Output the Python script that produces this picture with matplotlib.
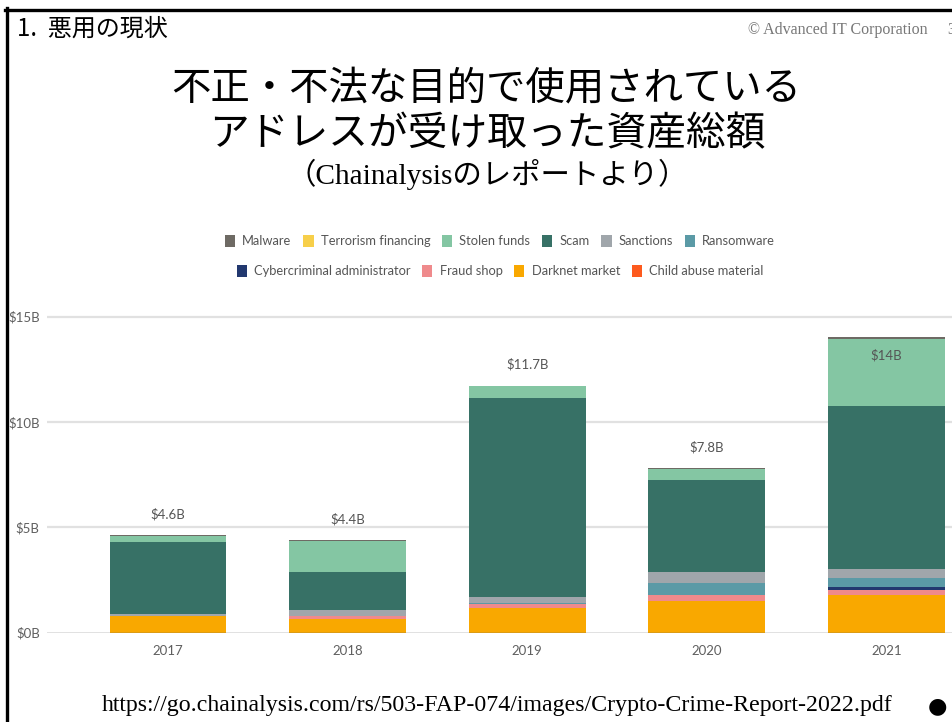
import matplotlib
matplotlib.use("Agg")
import matplotlib.pyplot as plt
from matplotlib.patches import Patch
from matplotlib.lines import Line2D
import numpy as np

# ---------------- data ----------------
years = ["2017", "2018", "2019", "2020", "2021"]
# stacked from bottom to top
child_abuse = [0.0, 0.0, 0.0, 0.0, 0.0]
darknet_market = [0.77, 0.63, 1.16, 1.52, 1.79]
fraud_shop = [0.03, 0.16, 0.19, 0.27, 0.24]
cyber_admin = [0.0, 0.0, 0.0, 0.0, 0.12]
ransomware = [0.0, 0.0, 0.07, 0.58, 0.46]
sanctions = [0.09, 0.29, 0.26, 0.53, 0.40]
scam = [3.40, 1.82, 9.44, 4.33, 7.75]
stolen_funds = [0.30, 1.47, 0.58, 0.54, 3.20]
terrorism_financing = [0.003, 0.003, 0.003, 0.003, 0.005]
malware = [0.03, 0.03, 0.03, 0.03, 0.07]
total_labels = ["$4.6B", "$4.4B", "$11.7B", "$7.8B", "$14B"]
ytick_values = [0, 5, 10, 15]
ytick_labels = ["$0B", "$5B", "$10B", "$15B"]

stack = [
    ("Child abuse material", child_abuse, "#fd5a1e"),
    ("Darknet market", darknet_market, "#f9a800"),
    ("Fraud shop", fraud_shop, "#ef8a8c"),
    ("Cybercriminal administrator", cyber_admin, "#22386f"),
    ("Ransomware", ransomware, "#5b9aa6"),
    ("Sanctions", sanctions, "#a0a6ab"),
    ("Scam", scam, "#377166"),
    ("Stolen funds", stolen_funds, "#84c6a3"),
    ("Terrorism financing", terrorism_financing, "#f7cf4a"),
    ("Malware", malware, "#6e6a64"),
]
colors = {name: c for name, _, c in stack}
legend_row1 = ["Malware", "Terrorism financing", "Stolen funds", "Scam", "Sanctions", "Ransomware"]
legend_row2 = ["Cybercriminal administrator", "Fraud shop", "Darknet market", "Child abuse material"]

W, H = 953, 722
fig = plt.figure(figsize=(W / 100, H / 100), dpi=100)
fig.patch.set_facecolor("white")

CF = "Lato"
tick_color = "#5f5f5f"

# axes geometry (pixels)
x_left_px, x_right_px = 46.7, 1007.6
y0_px, y15_px = 632.7, 316.7
ymax = 15.1
px_per_unit = (y0_px - y15_px) / 15
top_px = y0_px - ymax * px_per_unit
ax = fig.add_axes([x_left_px / W, (H - y0_px) / H, (x_right_px - x_left_px) / W, (y0_px - top_px) / H])
ax.set_xlim(-0.675, 4.675)
ax.set_ylim(0, ymax)
x = np.arange(len(years))
bottom = np.zeros(len(years))
for name, vals, c in stack:
    v = np.array(vals)
    ax.bar(x, v, width=0.65, bottom=bottom, color=c, linewidth=0, zorder=3)
    bottom += v
totals = bottom

for s in ax.spines.values():
    s.set_visible(False)
ax.set_yticks(ytick_values)
ax.set_yticklabels(ytick_labels, fontfamily=CF, fontsize=9.5, color=tick_color)
ax.set_xticks(x)
ax.set_xticklabels(years, fontfamily=CF, fontsize=9.5, color=tick_color)
ax.tick_params(axis="both", length=0)
ax.tick_params(axis="y", pad=5)
ax.tick_params(axis="x", pad=9)
for yv in ytick_values[1:]:
    ax.axhline(yv, color="#e1e1e1", lw=1.6, zorder=1)
ax.axhline(0, color="#6a6a6a", lw=1.0, zorder=4)

for xi, t, lab in zip(x, totals, total_labels):
    inside = (t + 1.2) > ymax
    off = -18 if inside else 21
    ax.annotate(lab, (xi, t), xytext=(0, off * 0.72), textcoords="offset points",
                ha="center", va="center", fontfamily=CF, fontsize=9.5, color="#555555", zorder=5)

# legends (two centred rows)
def make_leg(names, y):
    handles = [Patch(facecolor=colors[n], edgecolor="none") for n in names]
    leg = fig.legend(handles, names, loc="center", bbox_to_anchor=(500 / W, 1 - y / H),
                     ncol=len(names), frameon=False, prop={"family": CF, "size": 9.3},
                     handlelength=0.8, handleheight=1.15, handletextpad=0.55,
                     columnspacing=0.9, borderpad=0)
    for t in leg.get_texts():
        t.set_color("#555555")
    return leg

make_leg(legend_row1, 241)
make_leg(legend_row2, 271)

# slide frame
fig.add_artist(Line2D([6.5 / W, 6.5 / W], [0, 1 - 8 / H], color="black", lw=2.4))
fig.add_artist(Line2D([5.3 / W, 1], [1 - 9.5 / H, 1 - 9.5 / H], color="black", lw=2.4))

JP = ["Noto Sans CJK JP", "DejaVu Sans"]
SERIF_JP = ["Liberation Serif", "Noto Sans CJK JP"]
fig.text(17 / W, 1 - 29 / H, "1.  悪用の現状", fontfamily=JP, fontsize=17.3, ha="left", va="center")
fig.text(748 / W, 1 - 30 / H, "© Advanced IT Corporation", fontfamily="Liberation Serif",
         fontsize=11.5, color="#777777", ha="left", va="center")
fig.text(947 / W, 1 - 30 / H, "3", fontfamily="Liberation Serif", fontsize=11.5,
         color="#777777", ha="left", va="center")

fig.text(486 / W, 1 - 88 / H, "不正・不法な目的で使用されている", fontfamily=JP, fontsize=28.4,
         ha="center", va="center")
fig.text(487 / W, 1 - 134 / H, "アドレスが受け取った資産総額", fontfamily=JP, fontsize=28.6,
         ha="center", va="center")
fig.text(487.5 / W, 1 - 174 / H, "（Chainalysisのレポートより）", fontfamily=SERIF_JP, fontsize=21.2,
         ha="center", va="center")

fig.text(497.5 / W, 1 - 706 / H, "https://go.chainalysis.com/rs/503-FAP-074/images/Crypto-Crime-Report-2022.pdf",
         fontfamily="Liberation Serif", fontsize=17.2, ha="center", va="center")
fig.text(937 / W, 1 - 706 / H, "●", fontfamily="DejaVu Sans", fontsize=16, ha="center", va="center")

fig.savefig("out.png", dpi=100, facecolor="white")
